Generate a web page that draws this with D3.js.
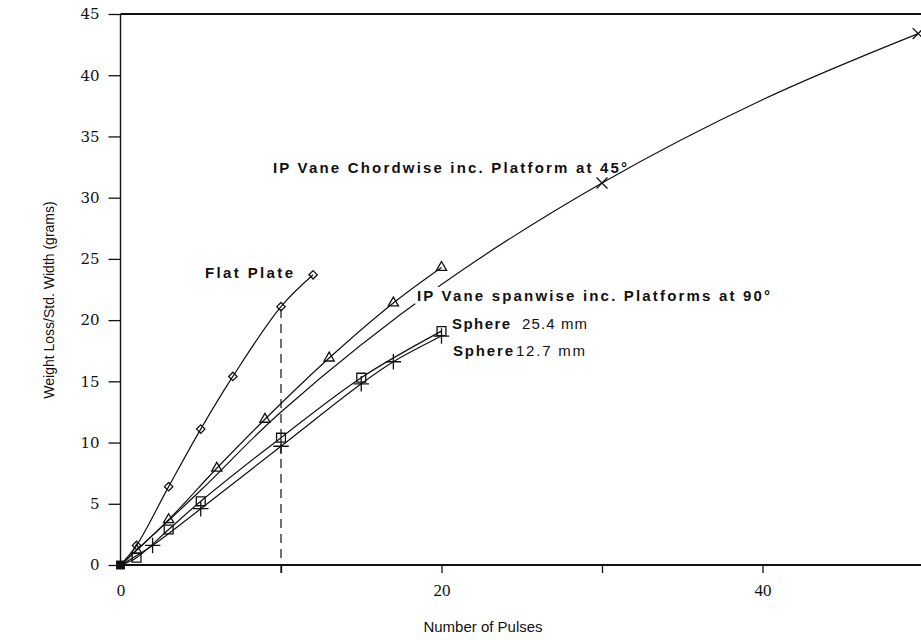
<!DOCTYPE html>
<html><head><meta charset="utf-8">
<script src="https://cdn.jsdelivr.net/npm/d3@7"></script>
<style>body{margin:0;background:#fff}svg{display:block}</style>
</head><body>
<svg id="chart" width="921" height="640"></svg>
<script>
// ---- data ----
const xTickLabels = [0, 20, 40];
const xTickMarks = [10, 20, 30, 40];
const yTickLabels = [0, 5, 10, 15, 20, 25, 30, 35, 40, 45];

const flatX = [0, 1, 3, 5, 7, 10, 12];
const flatY = [0, 1.6, 6.4, 11.1, 15.4, 21.1, 23.7];

const spanX = [0, 1, 3, 6, 9, 13, 17, 20];
const spanY = [0, 1.2, 3.7, 7.9, 11.9, 16.9, 21.4, 24.3];

const chordX = [0, 5, 10, 20, 30, 40, 49.7];
const chordY = [0, 6.1, 12.5, 22.9, 31.2, 38.0, 43.4];
const chordMarked = [false, false, false, false, true, false, true];

const s25X = [0, 1, 3, 5, 10, 15, 20];
const s25Y = [0, 0.6, 2.9, 5.2, 10.4, 15.3, 19.1];

const s12X = [0, 2, 5, 10, 15, 17, 20];
const s12Y = [0, 1.6, 4.6, 9.7, 14.8, 16.6, 18.7];

const refLineX = 10;     // dashed vertical line
const refLineTop = 21.1;

const labelChord = "IP Vane Chordwise inc. Platform at 45°";
const labelFlat = "Flat Plate";
const labelSpan = "IP Vane spanwise inc. Platforms at 90°";
const labelS25 = ["Sphere", "25.4 mm"];
const labelS12 = ["Sphere", "12.7 mm"];
const xTitle = "Number of Pulses";
const yTitle = "Weight Loss/Std. Width (grams)";

// ---- drawing ----
const svg = d3.select("#chart");
const ink = "#111";
const x = d3.scaleLinear().domain([0, 50]).range([120.5, 923]);
const y = d3.scaleLinear().domain([0, 45]).range([565, 14]);

// frame
svg.append("line").attr("x1", x(0)).attr("x2", x(50)).attr("y1", y(45)).attr("y2", y(45))
  .attr("stroke", ink).attr("stroke-width", 1.8);
svg.append("line").attr("x1", x(0)).attr("x2", x(0)).attr("y1", y(45)).attr("y2", y(0) + 4)
  .attr("stroke", ink).attr("stroke-width", 1.4);
svg.append("line").attr("x1", x(0) - 2).attr("x2", x(50)).attr("y1", y(0)).attr("y2", y(0))
  .attr("stroke", ink).attr("stroke-width", 2);

// y axis ticks + labels
const yAxis = d3.axisLeft(y).tickValues(yTickLabels).tickSize(12).tickPadding(9).tickFormat(d3.format("d"));
const gy = svg.append("g").attr("transform", `translate(${x(0)},0)`).call(yAxis);
gy.select(".domain").remove();
gy.selectAll(".tick line").attr("stroke", ink).attr("stroke-width", 1.3);
gy.selectAll(".tick text").attr("fill", ink).style("font-family", "'DejaVu Serif', serif").style("font-size", "15px");

// x axis ticks
const xAxisMarks = d3.axisBottom(x).tickValues(xTickMarks).tickSize(8).tickFormat("");
const gxm = svg.append("g").attr("transform", `translate(0,${y(0)})`).call(xAxisMarks);
gxm.select(".domain").remove();
gxm.selectAll(".tick line").attr("stroke", ink).attr("stroke-width", 1.3);
const xAxisLabels = d3.axisBottom(x).tickValues(xTickLabels).tickSize(0).tickPadding(19).tickFormat(d3.format("d"));
const gx = svg.append("g").attr("transform", `translate(0,${y(0)})`).call(xAxisLabels);
gx.select(".domain").remove();
gx.selectAll(".tick text").attr("fill", ink).style("font-family", "'Liberation Serif', serif").style("font-size", "17px");

// axis titles
svg.append("text").attr("x", 483).attr("y", 632).attr("text-anchor", "middle")
  .style("font-family", "'Liberation Sans Narrow','Liberation Sans',Arial,sans-serif").style("font-size", "15px")
  .attr("fill", ink).text(xTitle);
svg.append("text").attr("transform", "translate(54,300) rotate(-90)").attr("text-anchor", "middle")
  .style("font-family", "'Liberation Sans',Arial,sans-serif").style("font-size", "14px")
  .attr("fill", ink).text(yTitle);

// dashed reference line
svg.append("line").attr("x1", x(refLineX)).attr("x2", x(refLineX))
  .attr("y1", y(0) + 8).attr("y2", y(refLineTop))
  .attr("stroke", ink).attr("stroke-width", 1.2).attr("stroke-dasharray", "9,6");

// series
const line = d3.line().x(d => x(d[0])).y(d => y(d[1])).curve(d3.curveCatmullRom.alpha(0.5));
function series(xs, ys, symType, size, marked) {
  const pts = xs.map((v, i) => [v, ys[i]]);
  svg.append("path").datum(pts).attr("d", line).attr("fill", "none")
    .attr("stroke", ink).attr("stroke-width", 1.2);
  const sym = d3.symbol().type(symType).size(size);
  svg.append("g").selectAll("path").data(pts.filter((d, i) => i > 0 && (!marked || marked[i])))
    .join("path").attr("transform", d => `translate(${x(d[0])},${y(d[1])})`)
    .attr("d", sym).attr("fill", "none").attr("stroke", ink).attr("stroke-width", 1.3);
}
series(flatX, flatY, d3.symbolDiamond2, 45, null);
series(spanX, spanY, d3.symbolTriangle2, 75, null);
series(chordX, chordY, d3.symbolTimes, 80, chordMarked);
series(s25X, s25Y, d3.symbolSquare2, 100, null);
series(s12X, s12Y, d3.symbolPlus, 80, null);

// origin marker
svg.append("path").attr("transform", `translate(${x(0)},${y(0)})`)
  .attr("d", d3.symbol().type(d3.symbolSquare).size(80)).attr("fill", ink);

// annotations
const boldFont = "'Liberation Sans',Arial,sans-serif";
function label(txt, x0, x1, cy, bold, size, mask) {
  const g = svg.append("g");
  const t = g.append("text").attr("x", x0).attr("y", cy + size * 0.36)
    .style("font-family", boldFont).style("font-size", size + "px")
    .style("font-weight", bold ? "bold" : "normal").attr("fill", ink).text(txt)
    .attr("textLength", x1 - x0).attr("lengthAdjust", "spacing");
  if (mask) {
    const b = t.node().getBBox();
    g.insert("rect", "text").attr("x", b.x - 2).attr("y", b.y).attr("width", b.width + 4)
      .attr("height", b.height).attr("fill", "#fff");
  }
  return t;
}
label(labelChord, 273, 627, 168, true, 15, false);
label(labelFlat, 205, 293, 273, true, 15, false);
label(labelSpan, 417, 770, 295.5, true, 15, true);
label(labelS25[0], 452, 510, 323.5, true, 15, false);
label(labelS25[1], 522, 587, 323.5, false, 15, false);
label(labelS12[0], 453, 513, 351, true, 15, false);
label(labelS12[1], 516, 585, 351, false, 15, false);
</script>
</body></html>
